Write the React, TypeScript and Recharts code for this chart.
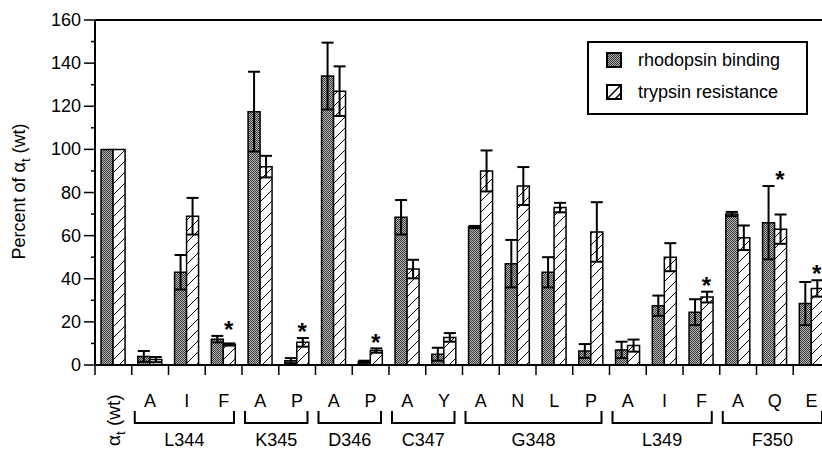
import React from 'react';
import { ComposedChart, Bar, Line, XAxis, YAxis, ErrorBar, ReferenceLine, Label } from 'recharts';

// ---- data ----
const categories = ['wt', 'A', 'I', 'F', 'A', 'P', 'A', 'P', 'A', 'Y', 'A', 'N', 'L', 'P', 'A', 'I', 'F', 'A', 'Q', 'E'];
const groups = ['', 'L344', 'L344', 'L344', 'K345', 'K345', 'D346', 'D346', 'C347', 'C347', 'G348', 'G348', 'G348', 'G348', 'L349', 'L349', 'L349', 'F350', 'F350', 'F350'];
const binding = [100, 4, 43, 12, 117.5, 2, 134, 1.5, 68.5, 5, 64, 47, 43, 6.5, 7, 27.5, 24.5, 70, 66, 28.5];
const bindingErr = [0, 2.5, 8, 1.5, 18.5, 1.2, 15.5, 0.5, 8, 3, 0.5, 11, 7, 3.2, 3.8, 4.7, 6, 1, 17, 10];
const trypsin = [100, 2.5, 69, 9.5, 92, 10.5, 127, 6.7, 44.5, 12.8, 90, 83, 73, 61.7, 9, 50, 31.5, 59, 63, 35.5];
const trypsinErr = [0, 1.2, 8.5, 0.5, 5, 2, 11.5, 1, 4.3, 2, 9.5, 8.8, 2.2, 13.8, 2.8, 6.5, 2.5, 5.7, 6.8, 3.8];
const significant = [false, false, false, true, false, true, false, true, false, false, false, false, false, false, false, false, true, false, true, true];
const yTicks = [0, 10, 20, 30, 40, 50, 60, 70, 80, 90, 100, 110, 120, 130, 140, 150, 160];

const FONT = '"Liberation Sans", Arial, Helvetica, sans-serif';
const W = 840;
const H = 449;
const PLOT_LEFT = 95;
const PLOT_RIGHT = 830;
const BAND = (PLOT_RIGHT - PLOT_LEFT) / categories.length;

const data = categories.map((c, i) => ({
  id: String(i),
  cat: c,
  b: binding[i],
  bErr: bindingErr[i],
  t: trypsin[i],
  tErr: trypsinErr[i],
  star: significant[i] ? Math.max(binding[i] + bindingErr[i], trypsin[i] + trypsinErr[i]) + 5 : null,
}));

const groupCount = (i: number) => {
  let n = 0;
  while (i + n < groups.length && groups[i + n] === groups[i]) n++;
  return n;
};

const XTick = (props: any) => {
  const { x, y, payload } = props;
  const i = Number(payload.value);
  const left = x - BAND / 2;
  const els: any[] = [];
  els.push(<line key="tk" x1={left} x2={left} y1={y} y2={y + 10} stroke="#000" strokeWidth={1.5} />);
  if (i === 0) {
    els.push(
      <text key="wt" transform={`translate(${x + 7},${y + 81}) rotate(-90)`} fontSize={19} fontFamily={FONT} fill="#000">
        <tspan>α</tspan>
        <tspan fontSize={13} dy={5}>t</tspan>
        <tspan dy={-5}> (wt)</tspan>
      </text>
    );
  } else {
    els.push(
      <text key="lt" x={x} y={y + 42} textAnchor="middle" fontSize={18} fontFamily={FONT} fill="#000">
        {categories[i]}
      </text>
    );
    if (groups[i] !== groups[i - 1]) {
      const n = groupCount(i);
      const bx1 = left + 3;
      const bx2 = left + n * BAND - 8;
      els.push(
        <path key="br" d={`M${bx1},${y + 46} V${y + 58} H${bx2} V${y + 46}`} fill="none" stroke="#000" strokeWidth={2} />
      );
      els.push(
        <text key="gl" x={(bx1 + bx2) / 2} y={y + 81} textAnchor="middle" fontSize={18} fontFamily={FONT} fill="#000">
          {groups[i]}
        </text>
      );
    }
  }
  return <g>{els}</g>;
};

const YTick = (props: any) => {
  const { x, y, payload } = props;
  const v = payload.value;
  const major = v % 20 === 0;
  return (
    <g>
      <line x1={x - (major ? 11 : 4)} x2={x} y1={y} y2={y} stroke="#000" strokeWidth={1.5} />
      {major && (
        <text x={x - 14} y={y} dy={6} textAnchor="end" fontSize={18} fontFamily={FONT} fill="#000">
          {v}
        </text>
      )}
    </g>
  );
};

const YLabel = (props: any) => {
  const vb = props.viewBox || { x: 0, y: 20, width: 95, height: 345 };
  const cy = vb.y + vb.height / 2 - 1;
  return (
    <text transform={`translate(${vb.x + 25},${cy}) rotate(-90)`} textAnchor="middle" fontSize={18} fontFamily={FONT} fill="#000">
      <tspan>Percent of α</tspan>
      <tspan fontSize={13} dy={5}>t</tspan>
      <tspan dy={-5}> (wt)</tspan>
    </text>
  );
};

const StarDot = (props: any) => {
  const { cx, cy, payload, index } = props;
  if (cx == null || cy == null || payload == null || payload.star == null) return <g key={`s${index}`} />;
  return (
    <text key={`s${index}`} x={cx + 5} y={cy + 13} textAnchor="middle" fontSize={24} fontWeight="bold" fontFamily={FONT} fill="#000">
      *
    </text>
  );
};

const Swatch = ({ kind }: { kind: 'b' | 't' }) => (
  <svg width={16} height={16} style={{ display: 'block' }}>
    <defs>
      <pattern id={`lg-stip`} width={2} height={2} patternUnits="userSpaceOnUse">
        <rect width={2} height={2} fill="#b0b0b0" />
        <rect width={1} height={1} fill="#333" />
        <rect x={1} y={1} width={1} height={1} fill="#333" />
      </pattern>
    </defs>
    {kind === 'b' ? (
      <rect x={1} y={1} width={14} height={14} fill="url(#lg-stip)" stroke="#000" strokeWidth={2} />
    ) : (
      <g>
        <rect x={1} y={1} width={14} height={14} fill="#fff" stroke="#000" strokeWidth={2} />
        <line x1={1} y1={15} x2={15} y2={1} stroke="#000" strokeWidth={1.5} />
        <line x1={9} y1={15} x2={15} y2={9} stroke="#000" strokeWidth={1.5} />
      </g>
    )}
  </svg>
);

export default function App() {
  return (
    <div style={{ position: 'fixed', left: 0, top: 0, width: 822, height: 449, overflow: 'hidden', background: '#fff' }}>
      <ComposedChart
        width={W}
        height={H}
        data={data}
        margin={{ top: 20, right: W - PLOT_RIGHT, left: 0, bottom: 0 }}
        barCategoryGap="16.5%"
        barGap={0}
      >
        <defs>
          <pattern id="stipple" width={2} height={2} patternUnits="userSpaceOnUse">
            <rect width={2} height={2} fill="#b4b4b4" />
            <rect width={1} height={1} fill="#3c3c3c" />
            <rect x={1} y={1} width={1} height={1} fill="#3c3c3c" />
          </pattern>
          <pattern id="hatch" width={11} height={11} patternUnits="userSpaceOnUse">
            <rect width={11} height={11} fill="#fff" />
            <path d="M-1,12 L12,-1 M-6,6 L6,-6 M5,17 L17,5" stroke="#000" strokeWidth={1} />
          </pattern>
        </defs>
        <XAxis
          dataKey="id"
          type="category"
          interval={0}
          height={H - 20 - 345}
          tickSize={0}
          tickMargin={0}
          tickLine={false}
          axisLine={{ stroke: '#000', strokeWidth: 2 }}
          tick={<XTick />}
        />
        <YAxis
          type="number"
          domain={[0, 160]}
          ticks={yTicks}
          interval={0}
          width={PLOT_LEFT}
          tickSize={0}
          tickMargin={0}
          tickLine={false}
          axisLine={{ stroke: '#000', strokeWidth: 2 }}
          tick={<YTick />}
          allowDataOverflow
        >
          <Label content={<YLabel />} />
        </YAxis>
        <ReferenceLine y={160} stroke="#000" strokeWidth={2} ifOverflow="visible" />
        <Bar dataKey="b" fill="url(#stipple)" stroke="#000" strokeWidth={1.5} isAnimationActive={false}>
          <ErrorBar dataKey="bErr" width={6} stroke="#000" strokeWidth={2} direction="y" />
        </Bar>
        <Bar dataKey="t" fill="url(#hatch)" stroke="#000" strokeWidth={1.5} isAnimationActive={false}>
          <ErrorBar dataKey="tErr" width={6} stroke="#000" strokeWidth={2} direction="y" />
        </Bar>
        <Line
          dataKey="star"
          stroke="none"
          dot={StarDot}
          activeDot={false}
          legendType="none"
          isAnimationActive={false}
          connectNulls={false}
        />
      </ComposedChart>
      <div
        style={{
          position: 'absolute',
          left: 587,
          top: 41,
          width: 221,
          height: 74,
          boxSizing: 'border-box',
          border: '2px solid #000',
          background: '#fff',
          fontFamily: FONT,
          fontSize: 18,
          color: '#000',
        }}
      >
        <div style={{ position: 'absolute', left: 17, top: 9 }}>
          <Swatch kind="b" />
        </div>
        <div style={{ position: 'absolute', left: 49, top: 8, lineHeight: '18px', whiteSpace: 'nowrap' }}>rhodopsin binding</div>
        <div style={{ position: 'absolute', left: 17, top: 41 }}>
          <Swatch kind="t" />
        </div>
        <div style={{ position: 'absolute', left: 49, top: 40, lineHeight: '18px', whiteSpace: 'nowrap' }}>trypsin resistance</div>
      </div>
    </div>
  );
}
